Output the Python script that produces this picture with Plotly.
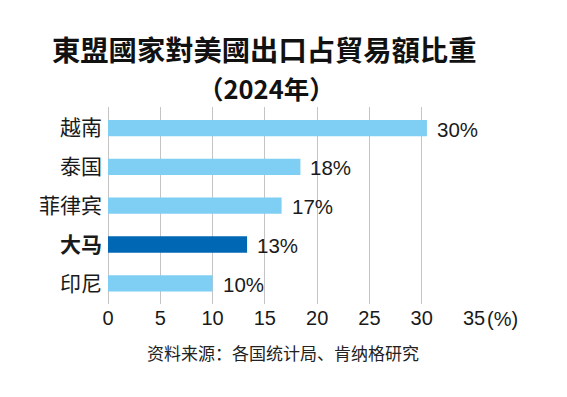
import plotly.graph_objects as go

countries = ["越南", "泰国", "菲律宾", "大马", "印尼"]
values = [30.5, 18.4, 16.6, 13.3, 10.0]
value_labels = ["30%", "18%", "17%", "13%", "10%"]
tick_vals = [0, 5, 10, 15, 20, 25, 30, 35]
highlight = "大马"

title_line1 = "東盟國家對美國出口占貿易額比重"
title_line2 = "（2024年）"
source_text = "资料来源：各国统计局、肯纳格研究"

LIGHT = "#7FCEF3"
DARK = "#0067B4"
colors = [DARK if c == highlight else LIGHT for c in countries]
tick_text = [f"<b>{c}</b>" if c == highlight else c for c in countries]

# page offset (browser body margin)
OFF = 8
W, H = 567 - OFF, 397 - OFF
L, T = 108 - OFF, 107 - OFF
pw, ph = 366, 197
R, B = W - L - pw, H - T - ph

def px(x):
    return (x - OFF - L) / pw

def py(y):
    return 1 - (y - OFF - T) / ph

fig = go.Figure()
fig.add_trace(go.Bar(
    x=values, y=countries, orientation="h",
    marker=dict(color=colors, line=dict(width=0)),
    width=0.42, hoverinfo="skip",
))

num_font = dict(family="Liberation Sans, Arial", size=20, color="#1a1a1a")
val_font = dict(family="Liberation Sans, Arial", size=20.5, color="#1a1a1a")

for c, v, t in zip(countries, values, value_labels):
    fig.add_annotation(x=v, y=c, xref="x", yref="y", text=t, showarrow=False,
                       xanchor="left", yanchor="middle", xshift=8, yshift=-1,
                       font=val_font)

fig.add_annotation(x=35, y=py(319), xref="x", yref="paper", text="(%)", showarrow=False,
                   xanchor="left", yanchor="middle", xshift=11,
                   font=num_font)

fig.add_annotation(x=px(264), y=py(48), xref="paper", yref="paper", text=f"<b>{title_line1}</b>",
                   showarrow=False, xanchor="center", yanchor="middle",
                   font=dict(family="Noto Sans CJK TC", size=28.3, color="#111"))
fig.add_annotation(x=px(266), y=py(87.5), xref="paper", yref="paper", text=f"<b>{title_line2}</b>",
                   showarrow=False, xanchor="center", yanchor="middle",
                   font=dict(family="Noto Sans CJK TC", size=25.5, color="#111"))
fig.add_annotation(x=px(283), y=py(352), xref="paper", yref="paper", text=source_text,
                   showarrow=False, xanchor="center", yanchor="middle",
                   font=dict(family="Noto Sans CJK SC", size=17, color="#222"))

fig.update_layout(
    width=W, height=H, autosize=False,
    margin=dict(l=L, r=R, t=T, b=B, pad=0),
    paper_bgcolor="white", plot_bgcolor="white",
    showlegend=False,
    xaxis=dict(range=[0, 35], tickvals=tick_vals, showgrid=True, gridcolor="#c4c4c4",
               gridwidth=1, zeroline=True, zerolinecolor="#c4c4c4", zerolinewidth=1,
               showline=False, ticks="", fixedrange=True,
               tickfont=num_font),
    yaxis=dict(categoryorder="array", categoryarray=countries,
               tickvals=countries, ticktext=tick_text, range=[4.533, -0.544],
               showgrid=False, showline=False, ticks="", ticklabelstandoff=5,
               tickfont=dict(family="Noto Sans CJK SC", size=21, color="#1a1a1a")),
)

fig.write_html("out.html")
